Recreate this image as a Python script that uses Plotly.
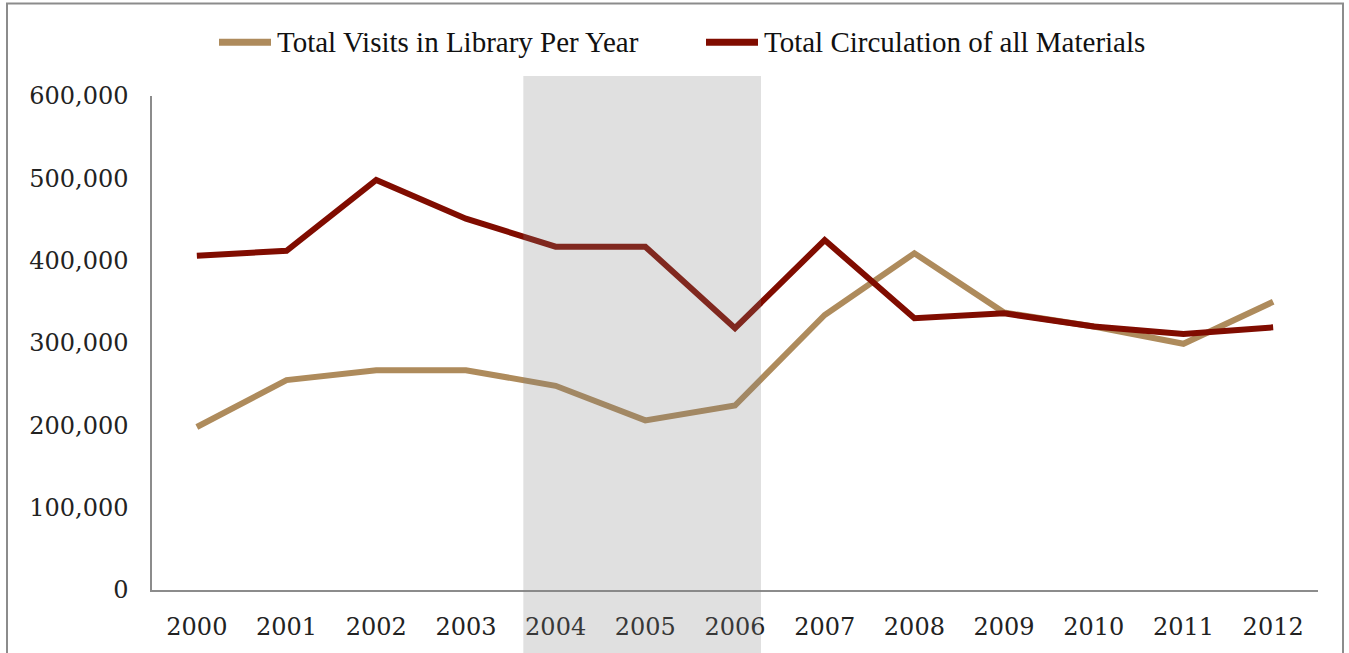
import plotly.graph_objects as go

years = ["2000", "2001", "2002", "2003", "2004", "2005", "2006",
         "2007", "2008", "2009", "2010", "2011", "2012"]
visits = [198000, 255000, 267000, 267000, 248000, 206000, 224000,
          334000, 409000, 337000, 320000, 299000, 350000]
circulation = [406000, 412000, 498000, 451000, 417000, 417000, 318000,
               425000, 330000, 336000, 320000, 311000, 319000]
y_ticks = [0, 100000, 200000, 300000, 400000, 500000, 600000]
y_tick_text = ["0", "100,000", "200,000", "300,000", "400,000", "500,000", "600,000"]
series_names = ["Total Visits in Library Per Year", "Total Circulation of all Materials"]
series_colors = ["#ae8b5c", "#800c00"]
shade_start, shade_end = 3.64, 6.29

W, H = 1349, 653
L, R, T, B = 152, 31, 96, 61
pw, ph = W - L - R, H - T - B

def px(x):
    return (x - L) / pw

def py(y):
    return (H - B - y) / ph

fig = go.Figure()
for name, vals, col in zip(series_names, [visits, circulation], series_colors):
    fig.add_trace(go.Scatter(x=years, y=vals, mode="lines", name=name,
                             line=dict(color=col, width=6), showlegend=False))

# shaded period
fig.add_shape(type="rect", xref="x", yref="paper",
              x0=shade_start, x1=shade_end, y0=py(680), y1=py(76),
              fillcolor="rgba(128,128,128,0.245)", line=dict(width=0),
              layer="above")
# outer border
fig.add_shape(type="rect", xref="paper", yref="paper",
              x0=px(7), x1=px(1343), y0=py(700), y1=py(3),
              line=dict(color="#8c8c8c", width=2), fillcolor="rgba(0,0,0,0)",
              layer="below")

# manual legend
legend_y = 42
legend_items = [(219, series_names[0], series_colors[0]),
                (706, series_names[1], series_colors[1])]
for x0, name, col in legend_items:
    fig.add_shape(type="line", xref="paper", yref="paper",
                  x0=px(x0), x1=px(x0 + 52), y0=py(legend_y), y1=py(legend_y),
                  line=dict(color=col, width=7))
    fig.add_annotation(xref="paper", yref="paper", x=px(x0 + 56), y=py(legend_y),
                       xanchor="left", yanchor="middle", showarrow=False,
                       text=name,
                       font=dict(family="Liberation Serif", size=29, color="#111"))

tick_font = dict(family="DejaVu Serif", size=24, color="#222")
fig.update_layout(
    width=W, height=H,
    margin=dict(l=L, r=R, t=T, b=B, pad=0),
    paper_bgcolor="white", plot_bgcolor="white",
    showlegend=False,
    xaxis=dict(type="category", range=[-0.5, 12.5], showgrid=False,
               showline=True, linecolor="#8c8c8c", linewidth=1.5,
               ticks="", zeroline=False, ticklabelstandoff=14,
               tickfont=tick_font),
    yaxis=dict(range=[0, 600000], tickvals=y_ticks, ticktext=y_tick_text,
               showgrid=False, showline=True, linecolor="#8c8c8c", linewidth=1.5,
               ticks="", zeroline=False, ticklabelstandoff=17,
               tickfont=tick_font),
)

fig.write_html("out.html")
